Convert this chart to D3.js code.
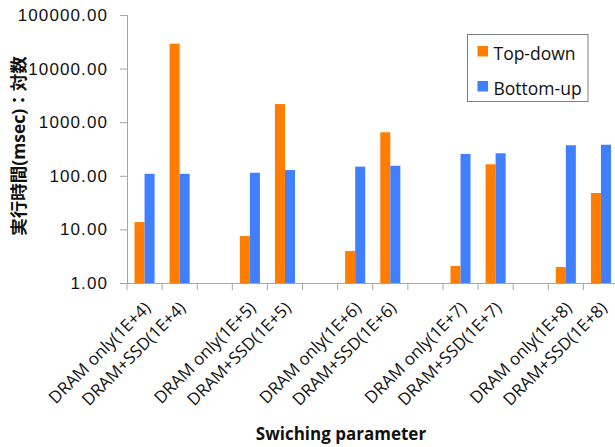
<!DOCTYPE html>
<html>
<head>
<meta charset="utf-8">
<script src="https://cdn.jsdelivr.net/npm/d3@7"></script>
<style>
    body { margin: 0; background: #fff; }
    svg { display: block; font-family: "Open Sans", "Noto Sans CJK JP", sans-serif; }
</style>
</head>
<body>
<div id="chart"></div>
<script>
// Categories (blank strings are the spacer slots between groups)
const categories = [
    "DRAM only(1E+4)", "DRAM+SSD(1E+4)", "",
    "DRAM only(1E+5)", "DRAM+SSD(1E+5)", " ",
    "DRAM only(1E+6)", "DRAM+SSD(1E+6)", "  ",
    "DRAM only(1E+7)", "DRAM+SSD(1E+7)", "   ",
    "DRAM only(1E+8)", "DRAM+SSD(1E+8)"
];
const seriesNames = ["Top-down", "Bottom-up"];
const topDown  = [13.7, 29200, null, 7.5, 2180, null, 3.95, 648, null, 2.08, 164, null, 1.99, 47.7];
const bottomUp = [109, 109, null, 114, 128, null, 148, 154, null, 255, 263, null, 371, 380];
const yTicks = [1, 10, 100, 1000, 10000, 100000];

const COLORS = { "Top-down": "#ff7d00", "Bottom-up": "#4080ff" };

const width = 615, height = 447;
const margin = { left: 127, top: 15, bottom: 164 };
const plotBottom = height - margin.bottom; // 283
const plotRight = 618.5;

const svg = d3.select("#chart").append("svg")
    .attr("width", width)
    .attr("height", height);

const x = d3.scaleBand()
    .domain(categories)
    .range([margin.left, plotRight])
    .paddingInner(0)
    .paddingOuter(0);

const xSub = d3.scaleBand()
    .domain(seriesNames)
    .range([0, x.bandwidth()])
    .paddingOuter(0.75)
    .paddingInner(0);

const y = d3.scaleLog()
    .domain([1, 100000])
    .range([plotBottom, margin.top]);

// Y axis
const yAxis = svg.append("g")
    .attr("transform", `translate(${margin.left},0)`)
    .call(d3.axisLeft(y).tickValues(yTicks).tickFormat(d3.format(".2f")).tickSizeOuter(0).tickSize(7).tickPadding(12));
yAxis.selectAll("text")
    .style("font-size", "17px")
    .style("letter-spacing", "1.1px")
    .style("fill", "#111");

// X axis (line only)
svg.append("g")
    .attr("transform", `translate(0,${plotBottom})`)
    .call(d3.axisBottom(x).tickSizeOuter(0).tickSize(0).tickFormat(""));
// tick marks at the slot boundaries
svg.append("g").selectAll("line")
    .data(categories)
    .join("line")
    .attr("x1", d => x(d))
    .attr("x2", d => x(d))
    .attr("y1", plotBottom)
    .attr("y2", plotBottom + 7)
    .attr("stroke", "#a6a6a6");

svg.selectAll(".domain, .tick line")
    .attr("stroke", "#a6a6a6");

// x labels, rotated
svg.append("g").selectAll("text")
    .data(categories.filter(d => d.trim() !== ""))
    .join("text")
    .attr("transform", d => `translate(${x(d) + x.bandwidth() / 2 + 7},${plotBottom + 26}) rotate(-45)`)
    .attr("text-anchor", "end")
    .style("font-size", "17px")
    .style("fill", "#111")
    .text(d => d);

// Bars
const rows = categories.map((c, i) => ({ cat: c, vals: [
    { name: "Top-down", v: topDown[i] },
    { name: "Bottom-up", v: bottomUp[i] }
]}));

svg.append("g").selectAll("g")
    .data(rows)
    .join("g")
    .attr("transform", d => `translate(${x(d.cat)},0)`)
    .selectAll("rect")
    .data(d => d.vals.filter(v => v.v != null))
    .join("rect")
    .attr("x", d => xSub(d.name))
    .attr("width", xSub.bandwidth())
    .attr("y", d => y(d.v))
    .attr("height", d => plotBottom - y(d.v))
    .attr("fill", d => COLORS[d.name]);

// Axis titles
svg.append("text")
    .attr("transform", `translate(25,146) rotate(-90)`)
    .attr("text-anchor", "middle")
    .style("font-size", "17.5px")
    .style("font-weight", "bold")
    .style("fill", "#111")
    .text("実行時間(msec)：対数");

svg.append("text")
    .attr("x", 341)
    .attr("y", 440)
    .attr("text-anchor", "middle")
    .style("font-size", "17px")
    .style("font-weight", "bold")
    .style("fill", "#111")
    .text("Swiching parameter");

// Legend
const legend = svg.append("g").attr("transform", "translate(467.5,34.5)");
legend.append("rect")
    .attr("width", 120.5)
    .attr("height", 67)
    .attr("fill", "#fff")
    .attr("stroke", "#7f7f7f");

const li = legend.selectAll(".li")
    .data(seriesNames)
    .join("g")
    .attr("transform", (d, i) => `translate(10,${11.5 + i * 35})`);
li.append("rect")
    .attr("width", 10.5)
    .attr("height", 10.5)
    .attr("fill", d => COLORS[d]);
li.append("text")
    .attr("x", 16)
    .attr("y", 14)
    .style("font-size", "17.5px")
    .style("fill", "#111")
    .text(d => d);
</script>
</body>
</html>
